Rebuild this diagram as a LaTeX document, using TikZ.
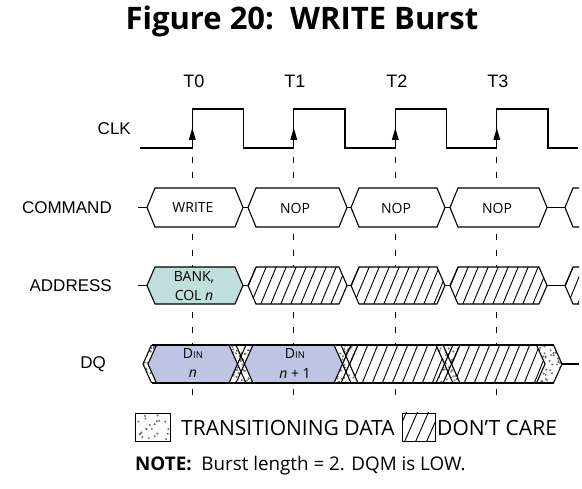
\documentclass[tikz,border=0pt]{standalone}
\usepackage{fontspec}
\setmainfont{Open Sans}
\newfontfamily\arialf{Liberation Sans}
\definecolor{tealfill}{HTML}{C0DEDA}
\definecolor{bluefill}{HTML}{BDC5E2}
\definecolor{dotgray}{HTML}{6E6E6E}
\tikzset{
  wave/.style={line width=1.1pt, line join=miter},
  hatchln/.style={line width=0.9pt},
  sig/.style={font=\arialf\fontsize{17}{20}\selectfont, inner sep=0pt},
  tlbl/.style={font=\arialf\fontsize{18}{20}\selectfont, inner sep=0pt},
  cmdtxt/.style={font=\fontsize{14}{16}\selectfont, inner sep=0pt},
  legtxt/.style={font=\fontsize{21}{24}\selectfont, inner sep=0pt, anchor=west},
  ticks/.style={line width=0.9pt, dash pattern=on 6pt off 9.5pt}
}
\newcommand\hexdraw[6]{\path[#6] (#1,#3) -- ({#1+#5},{#3-#4}) -- ({#2-#5},{#3-#4}) -- (#2,#3) -- ({#2-#5},{#3+#4}) -- ({#1+#5},{#3+#4}) -- cycle;}
\newcommand\hexhatch[5]{\begin{scope}
  \clip (#1,#3) -- ({#1+#5},{#3-#4}) -- ({#2-#5},{#3-#4}) -- (#2,#3) -- ({#2-#5},{#3+#4}) -- ({#1+#5},{#3+#4}) -- cycle;
  \fill[white] ({#1-1},{#3-#4-1}) rectangle ({#2+1},{#3+#4+1});
  \foreach \k in {0,...,13} \draw[hatchln] ({#1-18+10*\k},{#3+#4+2}) -- ++(17,{-2*#4-4});
  \end{scope}}
\newcommand\dotsin[5]{\foreach \i in {1,...,#5} \fill[dotgray] ({#1+rnd*#3},{#2+rnd*#4}) circle (1.1);}
\newcommand\xcross[4]{% center, top, bottom, s  (d = 3.5)
  \draw[wave] ({#1-3.5-#4},#2) -- ({#1-3.5+#4},#3);
  \draw[wave] ({#1-3.5+#4},#2) -- ({#1-3.5-#4},#3);
  \draw[wave] ({#1+3.5-#4},#2) -- ({#1+3.5+#4},#3);
  \draw[wave] ({#1+3.5+#4},#2) -- ({#1+3.5-#4},#3);}
\begin{document}
\begin{tikzpicture}[x=1pt,y=-1pt]
\pgfmathsetseed{11}
\useasboundingbox (0,0) rectangle (582,489);
\fill[white] (0,0) rectangle (582,489);

% title
\node[font=\bfseries\fontsize{31}{35}\selectfont, inner sep=0pt] (title) at (302,21) {Figure 20:\ \ WRITE Burst};

% time labels
\node[tlbl] (t0) at (194,81.5) {T0};
\node[tlbl] (t1) at (295,81.5) {T1};
\node[tlbl] (t2) at (397,81.5) {T2};
\node[tlbl] (t3) at (498,81.5) {T3};

% signal names
\node[sig, anchor=east] (clk) at (131,129) {CLK};
\node[sig, anchor=east] (cmd) at (112,208) {COMMAND};
\node[sig, anchor=east] (addr) at (112,285.5) {ADDRESS};
\node[sig, anchor=east] (dq) at (106,364) {DQ};

% dashed guide lines
\foreach \r in {192.3,293.8,395.3,496.8} \draw[ticks] (\r,157) -- (\r,396);

% clock
\draw[wave] (140,148) -- (192.3,148) -- (192.3,109) -- (243.5,109) -- (243.5,148)
  -- (293.8,148) -- (293.8,109) -- (345,109) -- (345,148)
  -- (395.3,148) -- (395.3,109) -- (446.5,109) -- (446.5,148)
  -- (496.8,148) -- (496.8,109) -- (548,109) -- (548,148) -- (578,148);
\foreach \r in {192.3,293.8,395.3,496.8} \fill (\r,128) -- ({\r-3.5},140) -- ({\r+3.5},140) -- cycle;

% COMMAND bus
\draw[wave] (138,207.5) -- (147,207.5);
\draw[wave] (243,207.5) -- (248,207.5);
\draw[wave] (347,207.5) -- (351,207.5);
\draw[wave] (445,207.5) -- (450,207.5);
\draw[wave] (547,207.5) -- (565,207.5);
\hexdraw{147}{243}{207.5}{19.5}{8}{wave, draw, fill=white}
\hexdraw{248}{347}{207.5}{19.5}{8}{wave, draw, fill=white}
\hexdraw{351}{445}{207.5}{19.5}{8}{wave, draw, fill=white}
\hexdraw{450}{547}{207.5}{19.5}{8}{wave, draw, fill=white}
\begin{scope}
  \clip (556,180) rectangle (579,235);
  \hexdraw{565}{640}{207.5}{19.5}{8}{wave, draw, fill=white}
\end{scope}
\node[cmdtxt] (write) at (193,208) {WRITE};
\node[cmdtxt] (nop1) at (295,208) {NOP};
\node[cmdtxt] (nop2) at (396,208) {NOP};
\node[cmdtxt] (nop3) at (497,208) {NOP};

% ADDRESS bus
\draw[wave] (138,285.5) -- (147,285.5);
\draw[wave] (243,285.5) -- (248,285.5);
\draw[wave] (347,285.5) -- (351,285.5);
\draw[wave] (445,285.5) -- (450,285.5);
\draw[wave] (547,285.5) -- (565,285.5);
\hexdraw{147}{243}{285.5}{18.5}{8}{wave, draw, fill=tealfill}
\hexhatch{248}{347}{285.5}{18.5}{8}
\hexdraw{248}{347}{285.5}{18.5}{8}{wave, draw}
\hexhatch{351}{445}{285.5}{18.5}{8}
\hexdraw{351}{445}{285.5}{18.5}{8}{wave, draw}
\hexhatch{450}{547}{285.5}{18.5}{8}
\hexdraw{450}{547}{285.5}{18.5}{8}{wave, draw}
\begin{scope}
  \clip (556,260) rectangle (579,310);
  \hexhatch{565}{640}{285.5}{18.5}{8}
  \hexdraw{565}{640}{285.5}{18.5}{8}{wave, draw}
\end{scope}
\node[cmdtxt] (bank) at (194,277) {BANK,};
\node[cmdtxt] (col) at (194,295) {COL \textit{n}};

% DQ bus
\begin{scope}
  \clip (143,364) -- (151.5,345) -- (553.5,345) -- (562,364) -- (553.5,383) -- (151.5,383) -- cycle;
  \fill[white] (140,343) rectangle (565,385);
  \dotsin{140}{344}{425}{40}{1000}
\end{scope}
\hexdraw{148}{237.5}{364}{19}{8.5}{fill=bluefill}
\hexdraw{244.5}{342.5}{364}{19}{8.5}{fill=bluefill}
\hexhatch{349.5}{444.5}{364}{19}{8.5}
\hexhatch{451.5}{545}{364}{19}{8.5}
\draw[wave] (151.5,345) -- (553.5,345);
\draw[wave] (151.5,383) -- (553.5,383);
\draw[wave] (151.5,345) -- (143,364) -- (151.5,383);
\draw[wave] (156.5,345) -- (148,364) -- (156.5,383);
\xcross{241}{345}{383}{8.5}
\xcross{346}{345}{383}{8.5}
\xcross{448}{345}{383}{8.5}
\draw[wave] (536.5,345) -- (545,364) -- (536.5,383);
\draw[wave] (553.5,345) -- (562,364) -- (553.5,383);
\draw[wave] (562,364) -- (579,364);
\node[cmdtxt] (din0) at (193,354) {D{\fontsize{9.5}{10}\selectfont IN}};
\node[cmdtxt] (n0) at (193,374) {\textit{n}};
\node[cmdtxt] (din1) at (295,354) {D{\fontsize{9.5}{10}\selectfont IN}};
\node[cmdtxt] (n1) at (295,374) {\textit{n} + 1};

% legend
\begin{scope}
  \clip (135,413) rectangle (170,441);
  \dotsin{135}{413}{35}{28}{22}
\end{scope}
\draw[line width=0.9pt] (135,413) rectangle (170,441);
\node[legtxt] (ltr) at (181,427.5) {TRANSITIONING DATA};
\begin{scope}
  \clip (402,413) rectangle (435,441);
  \foreach \k in {0,...,4} \draw[hatchln] ({393+11*\k},443) -- ++(14,-32);
\end{scope}
\draw[line width=0.9pt] (402,413) rectangle (435,441);
\node[legtxt] (ldc) at (437,427.5) {DON’T CARE};

% note
\node[font=\fontsize{18.8}{22}\selectfont, inner sep=0pt, anchor=west] (note) at (135,466) {\textbf{NOTE:}\ \ Burst length = 2. DQM is LOW.};
\end{tikzpicture}
\end{document}
